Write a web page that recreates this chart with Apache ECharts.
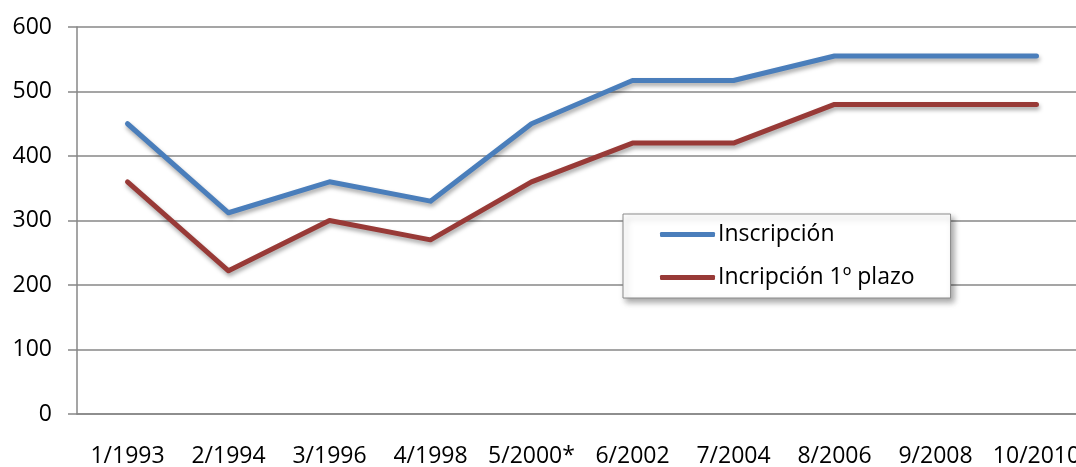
<!DOCTYPE html>
<html>
<head>
<meta charset="utf-8">
<script src="https://cdn.jsdelivr.net/npm/echarts@6/dist/echarts.min.js"></script>
<style>
html,body{margin:0;padding:0;background:#fff;}
#chart{width:1076px;height:467px;}
</style>
</head>
<body>
<div id="chart"></div>
<script>
const categories = ['1/1993','2/1994','3/1996','4/1998','5/2000*','6/2002','7/2004','8/2006','9/2008','10/2010'];
const inscripcion = [450, 312, 360, 330, 450, 517, 517, 555, 555, 555];
const incripcionPlazo = [360, 222, 300, 270, 360, 420, 420, 480, 480, 480];
const seriesNames = ['Inscripción', 'Incripción 1º plazo'];

const chart = echarts.init(document.getElementById('chart'));
const font = '"Open Sans", Lato, sans-serif';
const gray = '#878787';
const lineShadow = {shadowColor:'rgba(0,0,0,0.35)', shadowBlur:4, shadowOffsetX:1, shadowOffsetY:3};
chart.setOption({
  animation: false,
  textStyle: {fontFamily: font},
  grid: {left: 77, right: -11, top: 27, bottom: 53, containLabel: false, outerBoundsMode: 'none'},
  legend: {
    orient: 'vertical',
    left: 623, top: 214,
    padding: [9, 36, 9, 37],
    itemGap: 20,
    itemWidth: 55, itemHeight: 5,
    icon: 'roundRect',
    backgroundColor: '#fff',
    borderColor: '#8a8a8a', borderWidth: 1,
    shadowColor: 'rgba(0,0,0,0.35)', shadowBlur: 6, shadowOffsetX: 3, shadowOffsetY: 4,
    textStyle: {fontFamily: font, fontSize: 23, color: '#000', lineHeight: 20, padding: [0,0,0,-2]},
    data: seriesNames
  },
  xAxis: {
    type: 'category',
    data: categories,
    boundaryGap: true,
    axisLine: {lineStyle: {color: gray, width: 1.5}},
    axisTick: {length: 7, lineStyle: {color: gray, width: 1.5}},
    axisLabel: {fontFamily: font, fontSize: 23, color: '#000', margin: 31, interval: 0}
  },
  yAxis: {
    type: 'value',
    min: 0, max: 600, interval: 100,
    axisLine: {show: true, lineStyle: {color: gray, width: 1.5}},
    axisTick: {show: true, length: 9, lineStyle: {color: gray, width: 1.5}},
    splitLine: {lineStyle: {color: gray, width: 1.5}},
    axisLabel: {fontFamily: font, fontSize: 23, color: '#000', margin: 25}
  },
  series: [
    {
      name: seriesNames[0], type: 'line', data: inscripcion,
      symbol: 'none', color: '#4A7EBB',
      lineStyle: Object.assign({width: 5, color: '#4A7EBB', cap: 'round', join: 'round'}, lineShadow)
    },
    {
      name: seriesNames[1], type: 'line', data: incripcionPlazo,
      symbol: 'none', color: '#983A37',
      lineStyle: Object.assign({width: 5, color: '#983A37', cap: 'round', join: 'round'}, lineShadow)
    }
  ]
});
</script>
</body>
</html>
